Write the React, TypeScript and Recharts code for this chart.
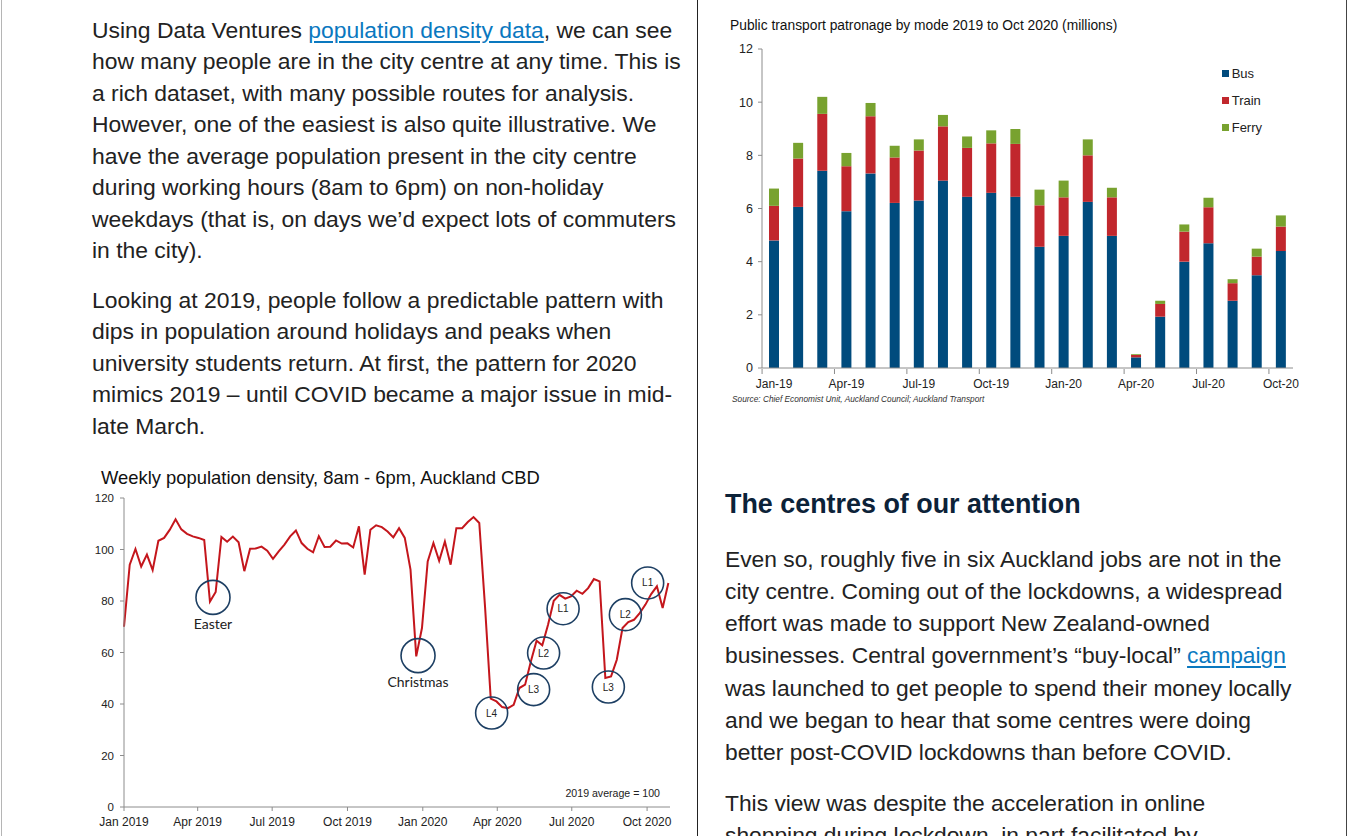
import {
  BarChart,
  Bar,
  XAxis,
  YAxis,
  Legend,
  LineChart,
  Line,
  ReferenceDot,
} from "recharts";

const FONT = "'Liberation Sans', Arial, sans-serif";
const AXIS = "#8c8c8c";
const RING = "#1d3f63";

// ---- public transport patronage (millions), monthly
const months = [
  "Jan-19", "Feb-19", "Mar-19", "Apr-19", "May-19", "Jun-19", "Jul-19", "Aug-19",
  "Sep-19", "Oct-19", "Nov-19", "Dec-19", "Jan-20", "Feb-20", "Mar-20", "Apr-20",
  "May-20", "Jun-20", "Jul-20", "Aug-20", "Sep-20", "Oct-20",
];
const bus = [
  4.8, 6.06, 7.42, 5.9, 7.32, 6.21, 6.3, 7.05, 6.44, 6.59, 6.44, 4.56, 4.97, 6.25,
  4.97, 0.4, 1.93, 4.0, 4.69, 2.53, 3.49, 4.4,
];
const train = [
  1.3, 1.82, 2.14, 1.69, 2.15, 1.71, 1.88, 2.04, 1.84, 1.86, 1.99, 1.56, 1.45, 1.75,
  1.45, 0.09, 0.48, 1.13, 1.36, 0.66, 0.7, 0.92,
];
const ferry = [
  0.65, 0.59, 0.64, 0.5, 0.5, 0.44, 0.42, 0.43, 0.43, 0.49, 0.56, 0.59, 0.63, 0.6,
  0.36, 0.03, 0.12, 0.27, 0.35, 0.15, 0.3, 0.42,
];
const modes = ["Bus", "Train", "Ferry"];
const modeColors = ["#004b7d", "#c1272d", "#78a22f"];
const patronageTicks = [0, 2, 4, 6, 8, 10, 12];

// ---- weekly population density, 2019 average = 100 (one value per week from 1 Jan 2019)
const density = [
  70, 94.1, 100.2, 93.4, 98, 92, 103.4, 104.5, 107.7, 111.7, 107.8, 106.1, 105.1,
  104.5, 103.7, 79.8, 83.5, 104.9, 103, 105, 102.8, 91.6, 100.3, 100.4, 101.1, 99.5,
  96.4, 99.3, 101.9, 105.1, 107.4, 102.5, 100.3, 98.9, 105.2, 101, 101.1, 103.5,
  102.3, 102.4, 100.8, 109, 90.2, 107.7, 109.4, 108.7, 107, 104.7, 108.3, 104.5,
  92.2, 58.5, 69.5, 95.4, 102.5, 95.6, 103.1, 94.1, 108.3, 108.3, 110.7, 112.6,
  110.3, 78, 42.1, 41, 38.8, 38.4, 39.7, 46.2, 47.5, 56.5, 64.6, 62.8, 70.8, 80.1,
  82.4, 80.9, 81.8, 84, 82.8, 85, 88.5, 87.6, 50.1, 50.7, 57.2, 69.5, 71.8, 72.7,
  75.3, 78.6, 82.7, 85.7, 77.3, 87,
];
const densityTicks = [0, 90, 181, 273, 365, 456, 547, 639]; // days since 1 Jan 2019
const densityTickLabels = [
  "Jan 2019", "Apr 2019", "Jul 2019", "Oct 2019", "Jan 2020", "Apr 2020", "Jul 2020", "Oct 2020",
];
const densityYTicks = [0, 20, 40, 60, 80, 100, 120];

// circled annotations
const ringLabels = ["Easter", "Christmas", "L4", "L3", "L2", "L1", "L3", "L2", "L1"];
const ringDays = [108.7, 359.2, 449.1, 500.4, 512.6, 536.4, 591.7, 612.5, 639.7];
const ringValues = [81.4, 58.8, 36.5, 45.6, 59.8, 77, 46.6, 74.7, 87];

const patronageData = months.map((m, i) => ({
  month: m,
  Bus: bus[i],
  Train: train[i],
  Ferry: ferry[i],
}));

const densityData = density.map((v, i) => ({ day: i * 7, value: v }));

const MonthTick = ({ x, y, payload }: any) => (
  <g>
    <line x1={x - 12} x2={x - 12} y1={y - 10} y2={y - 5} stroke={AXIS} />
    <text
      x={x}
      y={y}
      dy="0.71em"
      textAnchor="middle"
      fontSize={12}
      fontFamily={FONT}
      fill="#222"
    >
      {payload.value}
    </text>
  </g>
);

// legend keeps the Bus / Train / Ferry order of the original
const renderLegend = (props: any) => {
  const items = [...(props.payload || [])].sort(
    (a: any, b: any) => modes.indexOf(a.value) - modes.indexOf(b.value)
  );
  return (
    <div style={{ fontFamily: FONT }}>
      {items.map((item: any) => (
        <div
          key={item.value}
          style={{ display: "flex", alignItems: "center", height: 26.6, fontSize: 13, color: "#222" }}
        >
          <span
            style={{ width: 7, height: 7, background: item.color, marginRight: 3, display: "inline-block" }}
          />
          {item.value}
        </div>
      ))}
    </div>
  );
};

const ringShape = (text: string) => (p: any) => {
  const named = text.length > 2;
  return (
    <g>
      <circle cx={p.cx} cy={p.cy} r={named ? 17 : 16} fill="none" stroke={RING} strokeWidth={1.6} />
      <text
        x={p.cx}
        y={named ? p.cy + 26 : p.cy}
        textAnchor="middle"
        dominantBaseline="central"
        fontSize={named ? 14 : 10}
        fontFamily={named ? "Lato, 'Open Sans', sans-serif" : FONT}
        fill="#222"
      >
        {text}
      </text>
    </g>
  );
};

const Lines = ({ lines, top, left, lh, size }: any) => (
  <div style={{ position: "absolute", top, left, fontSize: size, lineHeight: `${lh}px`, color: "#222" }}>
    {lines.map((l: any, i: number) => (
      <div key={i} style={{ whiteSpace: "nowrap" }}>
        {l}
      </div>
    ))}
  </div>
);

const linkStyle = {
  color: "#0a78bf",
  textDecoration: "underline",
  textDecorationThickness: "2px",
  textUnderlineOffset: "3px",
};

export default function App() {
  return (
    <div
      style={{
        position: "absolute",
        left: 0,
        top: 0,
        width: 1360,
        height: 836,
        overflow: "hidden",
        background: "#fff",
        fontFamily: FONT,
      }}
    >
      <div style={{ position: "absolute", left: 1, top: 0, width: 1, height: 836, background: "#b5b5b5" }} />
      <div style={{ position: "absolute", left: 697, top: 0, width: 1, height: 836, background: "#222" }} />
      <div style={{ position: "absolute", left: 1346, top: 0, width: 1, height: 836, background: "#444" }} />

      <Lines
        top={14.6}
        left={92}
        lh={31.5}
        size={22.9}
        lines={[
          <>
            Using Data Ventures <span style={linkStyle}>population density data</span>, we can see
          </>,
          "how many people are in the city centre at any time. This is",
          "a rich dataset, with many possible routes for analysis.",
          "However, one of the easiest is also quite illustrative. We",
          "have the average population present in the city centre",
          "during working hours (8am to 6pm) on non-holiday",
          "weekdays (that is, on days we’d expect lots of commuters",
          "in the city).",
        ]}
      />
      <Lines
        top={284.6}
        left={92}
        lh={31.6}
        size={22.9}
        lines={[
          "Looking at 2019, people follow a predictable pattern with",
          "dips in population around holidays and peaks when",
          "university students return. At first, the pattern for 2020",
          "mimics 2019 – until COVID became a major issue in mid-",
          "late March.",
        ]}
      />

      <div
        style={{
          position: "absolute",
          left: 725,
          top: 489,
          fontSize: 26.9,
          lineHeight: "30px",
          fontWeight: "bold",
          color: "#0c2238",
          whiteSpace: "nowrap",
        }}
      >
        The centres of our attention
      </div>
      <Lines
        top={542.7}
        left={725}
        lh={32.2}
        size={22.8}
        lines={[
          "Even so, roughly five in six Auckland jobs are not in the",
          "city centre. Coming out of the lockdowns, a widespread",
          "effort was made to support New Zealand-owned",
          <>
            businesses. Central government’s “buy-local” <span style={linkStyle}>campaign</span>
          </>,
          "was launched to get people to spend their money locally",
          "and we began to hear that some centres were doing",
          "better post-COVID lockdowns than before COVID.",
        ]}
      />
      <Lines
        top={786.7}
        left={725}
        lh={32.2}
        size={22.8}
        lines={["This view was despite the acceleration in online", "shopping during lockdown, in part facilitated by"]}
      />

      {/* public transport chart */}
      <div
        style={{ position: "absolute", left: 730, top: 18, fontSize: 13.8, color: "#111", whiteSpace: "nowrap" }}
      >
        Public transport patronage by mode 2019 to Oct 2020 (millions)
      </div>
      <div style={{ position: "absolute", left: 700, top: 40 }}>
        <BarChart
          width={620}
          height={380}
          data={patronageData}
          margin={{ top: 9, right: 27, bottom: 22, left: 0 }}
          barSize={10}
        >
          <XAxis
            dataKey="month"
            interval={2}
            height={30}
            tickSize={4}
            tickMargin={7}
            tickLine={false}
            axisLine={{ stroke: AXIS }}
            tick={<MonthTick />}
          />
          <YAxis
            width={62}
            domain={[0, 12]}
            ticks={patronageTicks}
            tickSize={4}
            tickMargin={5}
            axisLine={{ stroke: AXIS }}
            tickLine={{ stroke: AXIS }}
            tick={{ fontSize: 12.5, fill: "#222", fontFamily: FONT }}
          />
          <Legend
            layout="vertical"
            align="center"
            verticalAlign="middle"
            wrapperStyle={{ left: 521.7, top: 20.7, width: 80 }}
            content={renderLegend}
          />
          {modes.map((m, i) => (
            <Bar key={m} dataKey={m} stackId="a" fill={modeColors[i]} isAnimationActive={false} />
          ))}
        </BarChart>
      </div>
      <div
        style={{
          position: "absolute",
          left: 732,
          top: 394,
          fontSize: 8.3,
          fontStyle: "italic",
          color: "#333",
          whiteSpace: "nowrap",
        }}
      >
        Source: Chief Economist Unit, Auckland Council; Auckland Transport
      </div>

      {/* weekly population density chart */}
      <div style={{ position: "absolute", left: 101, top: 467, fontSize: 18.4, color: "#111", whiteSpace: "nowrap" }}>
        Weekly population density, 8am - 6pm, Auckland CBD
      </div>
      <div style={{ position: "absolute", left: 60, top: 488 }}>
        <LineChart width={620} height={348} data={densityData} margin={{ top: 10, right: 10, bottom: 1, left: 0 }}>
          <XAxis
            dataKey="day"
            type="number"
            domain={[0, 667]}
            ticks={densityTicks}
            tickFormatter={(d: number) => densityTickLabels[densityTicks.indexOf(d)]}
            height={28}
            tickSize={4}
            tickMargin={6}
            axisLine={{ stroke: AXIS }}
            tickLine={{ stroke: AXIS }}
            tick={{ fontSize: 12, fill: "#222", fontFamily: FONT }}
          />
          <YAxis
            width={64}
            domain={[0, 120]}
            ticks={densityYTicks}
            tickSize={4}
            tickMargin={6}
            axisLine={{ stroke: AXIS }}
            tickLine={{ stroke: AXIS }}
            tick={{ fontSize: 11.5, fill: "#222", fontFamily: FONT }}
          />
          <Line
            type="linear"
            dataKey="value"
            stroke="#c4161c"
            strokeWidth={2}
            dot={false}
            isAnimationActive={false}
          />
          {ringLabels.map((t, i) => (
            <ReferenceDot key={i} x={ringDays[i]} y={ringValues[i]} r={16} shape={ringShape(t)} />
          ))}
        </LineChart>
      </div>
      <div
        style={{
          position: "absolute",
          left: 560,
          width: 100,
          textAlign: "right",
          top: 787,
          fontSize: 10.6,
          color: "#222",
          whiteSpace: "nowrap",
        }}
      >
        2019 average = 100
      </div>
    </div>
  );
}
